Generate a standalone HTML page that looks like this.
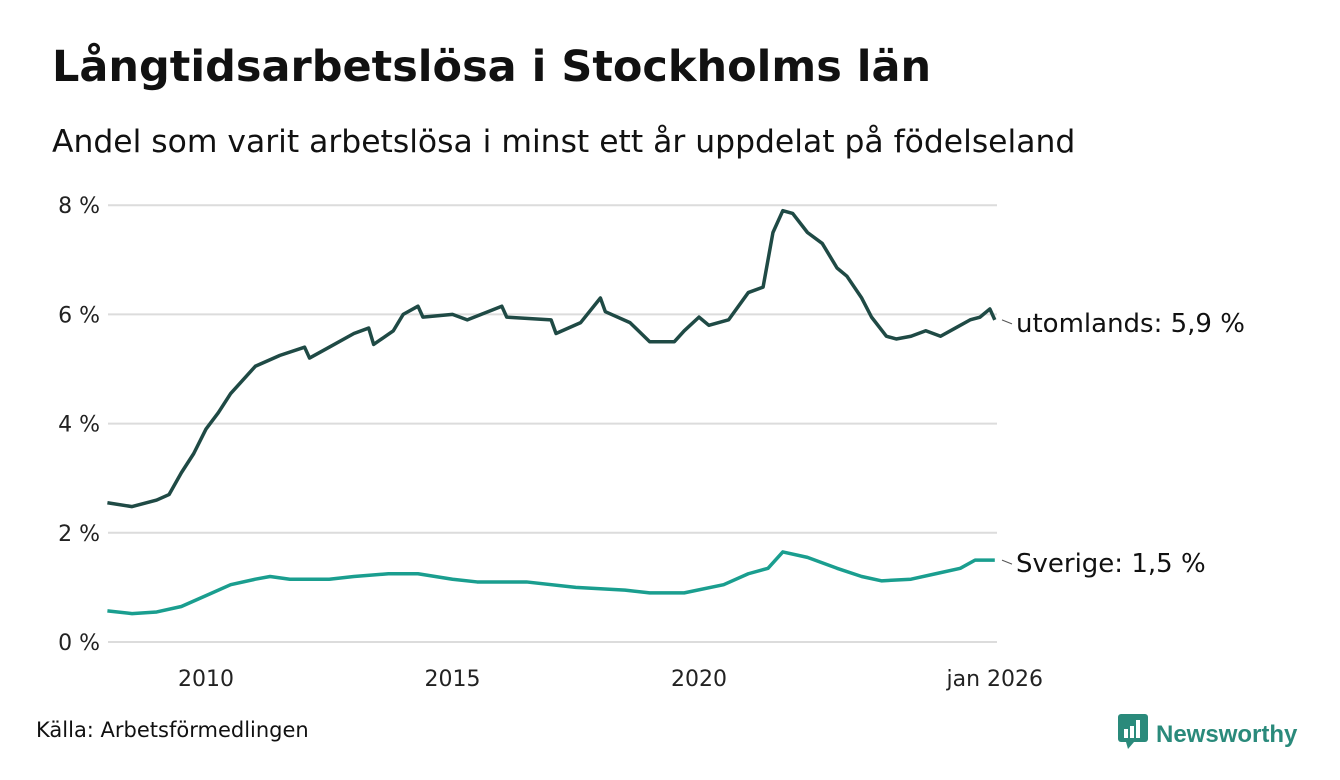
<!DOCTYPE html>
<html><head><meta charset="utf-8"><style>
body{margin:0;background:#fff;width:1340px;height:780px;overflow:hidden;font-family:"DejaVu Sans","Liberation Sans",sans-serif;color:#111}
#t{position:absolute;left:52px;top:42px;font-size:43px;font-weight:bold;margin:0}
#s{position:absolute;left:52px;top:124px;font-size:31.4px;margin:0}
#src{position:absolute;left:36px;top:718px;font-size:21px}
#logo{position:absolute;left:1118px;top:714px;font-size:24px;font-weight:bold;color:#2a8a7b;font-family:"Liberation Sans",sans-serif}
</style></head><body>
<h1 id="t">Långtidsarbetslösa i Stockholms län</h1>
<p id="s">Andel som varit arbetslösa i minst ett år uppdelat på födelseland</p>
<svg width="1340" height="780" style="position:absolute;left:0;top:0">
<g id="grid"></g><g id="lines"></g>
</svg>
<div id="src">Källa: Arbetsförmedlingen</div>
<div id="logo"><svg width="30" height="36" style="vertical-align:-8px;margin-right:8px"><rect x="0" y="0" width="30" height="28" rx="3" fill="#2a8a7b"/><polygon points="8,28 16,28 10,35" fill="#2a8a7b"/><rect x="6" y="15" width="4" height="9" fill="#fff"/><rect x="12" y="12" width="4" height="12" fill="#fff"/><rect x="18" y="6" width="4" height="18" fill="#fff"/></svg>Newsworthy</div>
<script>
const yTicks=[0,2,4,6,8];
const xTicks=[2010,2015,2020,2026];
const xTickLabels=["2010","2015","2020","jan 2026"];
const uDates=[2008,2008.5,2009,2009.25,2009.5,2009.75,2010,2010.25,2010.5,2010.75,2011,2011.5,2012,2012.1,2012.5,2013,2013.3,2013.4,2013.8,2014,2014.3,2014.4,2015,2015.3,2016,2016.1,2017,2017.1,2017.6,2018,2018.1,2018.6,2019,2019.5,2019.7,2020,2020.2,2020.6,2021,2021.3,2021.5,2021.7,2021.9,2022.2,2022.5,2022.8,2023,2023.3,2023.5,2023.8,2024,2024.3,2024.6,2024.9,2025.2,2025.5,2025.7,2025.9,2026];
const uVals=[2.55,2.48,2.6,2.7,3.1,3.45,3.9,4.2,4.55,4.8,5.05,5.25,5.4,5.2,5.4,5.65,5.75,5.45,5.7,6.0,6.15,5.95,6.0,5.9,6.15,5.95,5.9,5.65,5.85,6.3,6.05,5.85,5.5,5.5,5.7,5.95,5.8,5.9,6.4,6.5,7.5,7.9,7.85,7.5,7.3,6.85,6.7,6.3,5.95,5.6,5.55,5.6,5.7,5.6,5.75,5.9,5.95,6.1,5.9];
const sDates=[2008,2008.5,2009,2009.5,2010,2010.5,2011,2011.3,2011.7,2012.5,2013,2013.7,2014.3,2015,2015.5,2016.5,2017.5,2018.5,2019,2019.7,2020.5,2021,2021.4,2021.7,2022.2,2022.8,2023.3,2023.7,2024.3,2024.8,2025.3,2025.6,2026];
const sVals=[0.57,0.52,0.55,0.65,0.85,1.05,1.15,1.2,1.15,1.15,1.2,1.25,1.25,1.15,1.1,1.1,1.0,0.95,0.9,0.9,1.05,1.25,1.35,1.65,1.55,1.35,1.2,1.12,1.15,1.25,1.35,1.5,1.5];
const x=d=>206+(d-2010)*49.3;
const y=v=>642-v*54.6;
const NS="http://www.w3.org/2000/svg";
const g=document.getElementById('grid'),L=document.getElementById('lines');
function mk(tag,at,par){const e=document.createElementNS(NS,tag);for(const k in at)e.setAttribute(k,at[k]);par.appendChild(e);return e;}
yTicks.forEach(v=>{
 const l=mk('line',{x1:108,x2:997,y1:y(v),y2:y(v),stroke:'#dcdcdc','stroke-width':2},g);
 
 
 const t=mk('text',{x:100,y:y(v)+8,'text-anchor':'end','font-size':22,fill:'#222'},g);t.textContent=v+' %';
 
 
});
xTicks.forEach((d,i)=>{
 const t=mk('text',{x:x(d),y:686,'text-anchor':'middle','font-size':22,fill:'#222'},g);t.textContent=xTickLabels[i];
 
 
});
function series(ds,vs,col,name,label){
 const p=mk('path',{d:ds.map((d,i)=>(i?'L':'M')+x(d)+','+y(vs[i])).join(''),fill:'none',stroke:col,'stroke-width':3.5,'stroke-linejoin':'round'},L);
 
 
 const lv=vs[vs.length-1],ly=y(lv);
 mk('line',{x1:1002,x2:1012,y1:ly,y2:ly+4,stroke:'#555','stroke-width':1},L);
 const t=mk('text',{x:1016,y:ly+12,'font-size':26,fill:'#111'},L);
 t.textContent=label+': '+lv.toFixed(1).replace('.',',')+' %';
 
 
}
series(uDates,uVals,'#1f4a45','utomlands-line','utomlands');
series(sDates,sVals,'#1a9e8f','sverige-line','Sverige');
</script>
</body></html>
